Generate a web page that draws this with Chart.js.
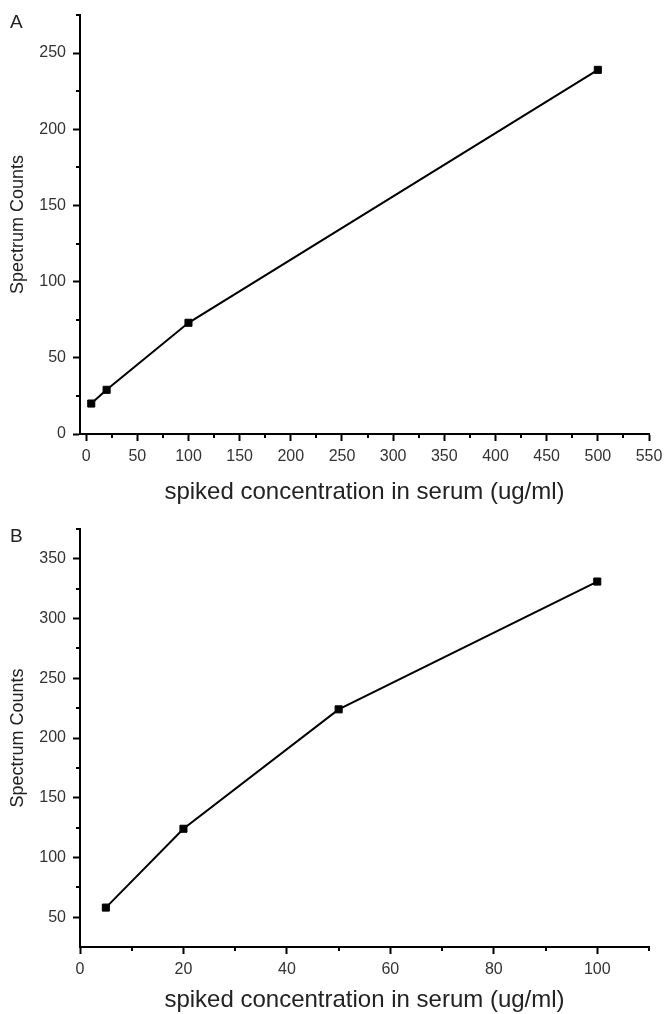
<!DOCTYPE html>
<html>
<head>
<meta charset="utf-8">
<script src="https://cdn.jsdelivr.net/npm/chart.js@4.4.1/dist/chart.umd.min.js"></script>
<style>
  html, body { margin: 0; padding: 0; background: #fff; }
  body { width: 665px; height: 1014px; position: relative; overflow: hidden; font-family: "Liberation Sans", Arial, sans-serif; }
  .wrap { position: absolute; left: 0; width: 665px; }
  .panel { position: absolute; left: 10px; font-size: 19px; color: #222; line-height: 1; }
</style>
</head>
<body>
<div class="wrap" id="wrapA" style="top:0; height:510px;"><canvas id="chartA" width="665" height="510"></canvas></div>
<div class="wrap" id="wrapB" style="top:510px; height:510px;"><canvas id="chartB" width="665" height="510"></canvas></div>
<div class="panel" style="top:12px;">A</div>
<div class="panel" style="top:526px;">B</div>
<script>
// ---- Data ----
const concA = [5, 20, 100, 500];
const countsA = [20, 29, 73, 239];
const concB = [5, 20, 50, 100];
const countsB = [58, 124, 224, 331];

// ---- Tick labels ----
const xTicksA = [0, 50, 100, 150, 200, 250, 300, 350, 400, 450, 500, 550];
const yTicksA = [0, 50, 100, 150, 200, 250];
const xMinorA = [25, 75, 125, 175, 225, 275, 325, 375, 425, 475, 525];
const yMinorA = [25, 75, 125, 175, 225, 275];
const xTicksB = [0, 20, 40, 60, 80, 100];
const yTicksB = [50, 100, 150, 200, 250, 300, 350];
const xMinorB = [10, 30, 50, 70, 90, 110];
const yMinorB = [75, 125, 175, 225, 275, 325, 375];

const xTitle = 'spiked concentration in serum (ug/ml)';
const yTitle = 'Spectrum Counts';

const FONT = '"Liberation Sans", Arial, sans-serif';

const minorTickPlugin = {
  id: 'minorTicks',
  afterDraw(chart, args, opts) {
    const ctx = chart.ctx;
    const xs = chart.scales.x, ys = chart.scales.y;
    const ca = chart.chartArea;
    ctx.save();
    ctx.strokeStyle = '#000';
    ctx.lineWidth = 2;
    ctx.beginPath();
    (opts.x || []).forEach(v => {
      const px = Math.round(xs.getPixelForValue(v));
      ctx.moveTo(px, ca.bottom);
      ctx.lineTo(px, ca.bottom + 4);
    });
    (opts.y || []).forEach(v => {
      const py = Math.round(ys.getPixelForValue(v));
      ctx.moveTo(ca.left, py);
      ctx.lineTo(ca.left - 4, py);
    });
    ctx.stroke();
    ctx.restore();
  }
};

function makeChart(id, xs, ys, cfg) {
  const pts = xs.map((x, i) => ({ x: x, y: ys[i] }));
  return new Chart(document.getElementById(id), {
    type: 'scatter',
    data: {
      datasets: [{
        data: pts,
        showLine: true,
        borderColor: '#000',
        borderWidth: 2,
        backgroundColor: '#000',
        pointStyle: 'rect',
        pointRadius: 5,
        pointHoverRadius: 5,
        pointBorderWidth: 1,
        pointBorderColor: '#000',
        pointBackgroundColor: '#000',
        clip: false
      }]
    },
    options: {
      responsive: false,
      animation: false,
      events: [],
      layout: { padding: { top: cfg.top, right: 16, left: 0, bottom: 0 } },
      plugins: {
        legend: { display: false },
        tooltip: { enabled: false },
        minorTicks: { x: cfg.xMinor, y: cfg.yMinor }
      },
      scales: {
        x: {
          type: 'linear',
          min: cfg.xMin, max: cfg.xMax,
          afterBuildTicks: s => { s.ticks = cfg.xTicks.map(v => ({ value: v })); },
          afterFit: s => { s.height = cfg.xAxisH; s.paddingLeft = 0; s.paddingRight = 0; },
          grid: { display: true, drawOnChartArea: false, drawTicks: true, tickLength: 7, tickWidth: 2, tickColor: '#000' },
          border: { display: true, color: '#000', width: 2 },
          ticks: { color: '#333', font: { family: FONT, size: 16 }, padding: 6, maxRotation: 0, autoSkip: false },
          title: { display: true, text: xTitle, color: '#222', font: { family: FONT, size: 24 }, padding: { top: 0, bottom: cfg.xTitlePad } }
        },
        y: {
          type: 'linear',
          min: cfg.yMin, max: cfg.yMax,
          afterBuildTicks: s => { s.ticks = cfg.yTicks.map(v => ({ value: v })); },
          afterFit: s => { s.width = 80; s.paddingTop = 0; s.paddingBottom = 0; },
          grid: { display: true, drawOnChartArea: false, drawTicks: true, tickLength: 7, tickWidth: 2, tickColor: '#000' },
          border: { display: true, color: '#000', width: 2 },
          ticks: { color: '#333', font: { family: FONT, size: 16 }, padding: 7, autoSkip: false },
          title: { display: true, text: yTitle, color: '#222', font: { family: FONT, size: 18 }, padding: { top: 7, bottom: 0 } }
        }
      }
    },
    plugins: [minorTickPlugin]
  });
}

makeChart('chartA', concA, countsA, {
  top: 15,
  xMin: -6, xMax: 550, yMin: 0, yMax: 275,
  xTicks: xTicksA, yTicks: yTicksA, xMinor: xMinorA, yMinor: yMinorA,
  xAxisH: 76, xTitlePad: 3
});
makeChart('chartB', concB, countsB, {
  top: 19,
  xMin: 0, xMax: 110, yMin: 25, yMax: 375,
  xTicks: xTicksB, yTicks: yTicksB, xMinor: xMinorB, yMinor: yMinorB,
  xAxisH: 73, xTitlePad: 5
});
</script>
</body>
</html>
